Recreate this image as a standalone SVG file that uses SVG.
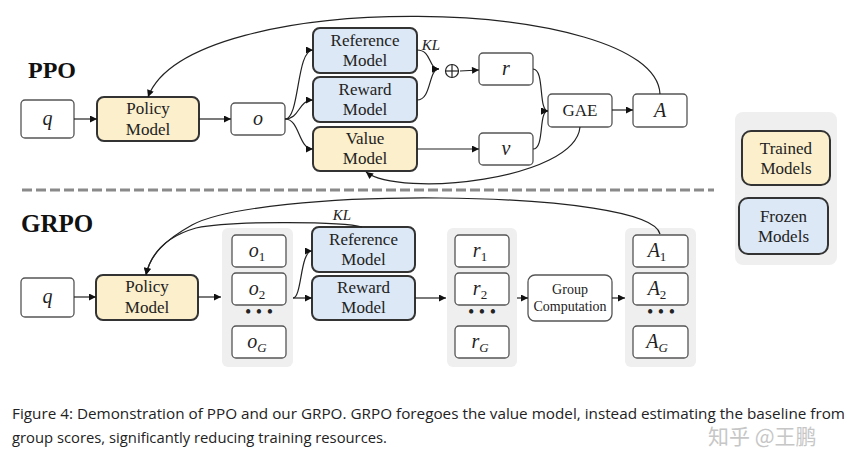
<svg xmlns="http://www.w3.org/2000/svg" width="864" height="460" viewBox="0 0 864 460">
<defs>
<marker id="ah" viewBox="0 0 10 10" refX="10" refY="5" markerWidth="8" markerHeight="7" orient="auto" markerUnits="userSpaceOnUse"><path d="M0,0 L10,5 L0,10 z" fill="#111"/></marker>
<style>
.box{fill:#fff;stroke:#555;stroke-width:1.3}
.tr{fill:#fcefcb;stroke:#333;stroke-width:2}
.fr{fill:#dce8f5;stroke:#333;stroke-width:2}
.grp{fill:#efefef;stroke:none}
.t{font-family:"Liberation Serif",serif;font-size:17px;fill:#222;text-anchor:middle}
.m{font-family:"Liberation Serif",serif;font-style:italic;font-size:20px;fill:#222;text-anchor:middle}
.s{font-size:13px;font-style:normal}
.h{font-family:"Liberation Serif",serif;font-weight:bold;font-size:24px;fill:#111}
.c{fill:none;stroke:#222;stroke-width:1.2}
.cap{font-family:"Open Sans","Liberation Sans",sans-serif;font-size:15px;fill:#222}
</style>
</defs>
<rect width="864" height="460" fill="#fff"/>

<text class="h" x="28" y="78">PPO</text>
<text class="h" x="21" y="232" style="font-size:25px">GRPO</text>
<line x1="22" y1="190" x2="714" y2="190" stroke="#8a8a8a" stroke-width="3" stroke-dasharray="10,4"/>

<!-- legend -->
<g id="legend">
<rect class="grp" x="735" y="112" width="102" height="153" rx="8"/>
<g id="trained"><rect class="tr" x="742" y="131" width="88" height="54" rx="9"/><text class="t" x="786" y="154">Trained</text><text class="t" x="786" y="174">Models</text></g>
<g id="frozen"><rect class="fr" x="739" y="198" width="89" height="56" rx="9"/><text class="t" x="783.5" y="222">Frozen</text><text class="t" x="783.5" y="242">Models</text></g>
</g>

<!-- PPO nodes -->
<g id="ppo-q"><rect class="box" x="21" y="100" width="53" height="38" rx="4"/><text class="m" x="47.5" y="125">q</text></g>
<g id="ppo-policy"><rect class="tr" x="97" y="97" width="102" height="44" rx="7"/><text class="t" x="148" y="114">Policy</text><text class="t" x="148" y="135">Model</text></g>
<g id="ppo-o"><rect class="box" x="231" y="103" width="54" height="32" rx="4"/><text class="m" x="258" y="125">o</text></g>
<g id="ppo-ref"><rect class="fr" x="313" y="28" width="104" height="45" rx="7"/><text class="t" x="365" y="46">Reference</text><text class="t" x="365" y="66">Model</text></g>
<g id="ppo-reward"><rect class="fr" x="313" y="77" width="104" height="45" rx="7"/><text class="t" x="365" y="95">Reward</text><text class="t" x="365" y="115">Model</text></g>
<g id="ppo-value"><rect class="tr" x="313" y="127" width="104" height="44" rx="7"/><text class="t" x="365" y="144">Value</text><text class="t" x="365" y="164">Model</text></g>
<g id="ppo-plus"><circle cx="452" cy="71" r="6.5" fill="none" stroke="#222" stroke-width="1.2"/><line x1="445.5" y1="71" x2="458.5" y2="71" stroke="#222" stroke-width="1.2"/><line x1="452" y1="64.5" x2="452" y2="77.5" stroke="#222" stroke-width="1.2"/></g>
<g id="ppo-r"><rect class="box" x="479" y="53" width="54" height="32" rx="4"/><text class="m" x="506" y="75">r</text></g>
<g id="ppo-v"><rect class="box" x="479" y="133" width="54" height="32" rx="4"/><text class="m" x="506" y="155">v</text></g>
<g id="ppo-gae"><rect class="box" x="548" y="94" width="64" height="33" rx="4"/><text class="t" x="580" y="116">GAE</text></g>
<g id="ppo-a"><rect class="box" x="633" y="94" width="54" height="33" rx="4"/><text class="m" x="660" y="117">A</text></g>

<!-- GRPO nodes -->
<g id="grpo-q"><rect class="box" x="21" y="278" width="53" height="39" rx="4"/><text class="m" x="47.5" y="303">q</text></g>
<g id="grpo-policy"><rect class="tr" x="96" y="275" width="102" height="45" rx="7"/><text class="t" x="147" y="292">Policy</text><text class="t" x="147" y="313">Model</text></g>
<g id="grpo-o">
<rect class="grp" x="222" y="228" width="71" height="139" rx="6"/>
<rect class="box" x="232" y="235" width="54" height="32" rx="4"/><text class="m" x="257" y="257">o<tspan class="s" dy="4">1</tspan></text>
<rect class="box" x="232" y="273" width="54" height="32" rx="4"/><text class="m" x="257" y="295">o<tspan class="s" dy="4">2</tspan></text>
<text class="t" x="259" y="318" style="font-size:18px">• • •</text>
<rect class="box" x="232" y="326" width="54" height="32" rx="4"/><text class="m" x="257" y="348">o<tspan class="s" dy="4" style="font-style:italic">G</tspan></text>
</g>
<g id="grpo-ref"><rect class="fr" x="312" y="227" width="103" height="45" rx="7"/><text class="t" x="363.5" y="245">Reference</text><text class="t" x="363.5" y="265">Model</text></g>
<g id="grpo-reward"><rect class="fr" x="312" y="276" width="103" height="44" rx="7"/><text class="t" x="363.5" y="293">Reward</text><text class="t" x="363.5" y="313">Model</text></g>
<g id="grpo-r">
<rect class="grp" x="447" y="228" width="70" height="139" rx="6"/>
<rect class="box" x="455" y="235" width="54" height="32" rx="4"/><text class="m" x="480" y="257">r<tspan class="s" dy="4">1</tspan></text>
<rect class="box" x="455" y="273" width="54" height="32" rx="4"/><text class="m" x="480" y="295">r<tspan class="s" dy="4">2</tspan></text>
<text class="t" x="482" y="318" style="font-size:18px">• • •</text>
<rect class="box" x="455" y="326" width="54" height="32" rx="4"/><text class="m" x="480" y="348">r<tspan class="s" dy="4" style="font-style:italic">G</tspan></text>
</g>
<g id="grpo-group"><rect class="box" x="528" y="275" width="84" height="46" rx="7"/><text class="t" x="570" y="294" style="font-size:14px">Group</text><text class="t" x="570" y="311" style="font-size:14px">Computation</text></g>
<g id="grpo-a">
<rect class="grp" x="625" y="228" width="71" height="139" rx="6"/>
<rect class="box" x="633" y="235" width="55" height="32" rx="4"/><text class="m" x="657" y="257">A<tspan class="s" dy="4">1</tspan></text>
<rect class="box" x="633" y="273" width="55" height="32" rx="4"/><text class="m" x="657" y="295">A<tspan class="s" dy="4">2</tspan></text>
<text class="t" x="661" y="318" style="font-size:18px">• • •</text>
<rect class="box" x="633" y="326" width="55" height="32" rx="4"/><text class="m" x="657" y="348">A<tspan class="s" dy="4" style="font-style:italic">G</tspan></text>
</g>

<!-- connectors -->
<g id="connectors">
<line class="c" x1="74" y1="119" x2="97" y2="119" marker-end="url(#ah)"/>
<line class="c" x1="199" y1="119" x2="231" y2="119" marker-end="url(#ah)"/>
<path class="c" d="M285 119 C300 119 296 50 313 50" marker-end="url(#ah)"/>
<path class="c" d="M285 119 C300 119 298 100 313 100" marker-end="url(#ah)"/>
<path class="c" d="M285 119 C300 119 298 149 313 149" marker-end="url(#ah)"/>
<path class="c" d="M417 50 C432 50 428 69 439 69" marker-end="url(#ah)"/>
<path class="c" d="M417 100 C432 100 428 69 439 69" marker-end="url(#ah)"/>
<line class="c" x1="460" y1="71" x2="479" y2="70" marker-end="url(#ah)"/>
<line class="c" x1="417" y1="149" x2="479" y2="149" marker-end="url(#ah)"/>
<path class="c" d="M533 69 C545 69 538 111 548 111" marker-end="url(#ah)"/>
<path class="c" d="M533 149 C545 149 538 111 548 111" marker-end="url(#ah)"/>
<line class="c" x1="612" y1="110" x2="633" y2="110" marker-end="url(#ah)"/>
<path class="c" d="M580 127 C575 180 400 198 366 172" marker-end="url(#ah)"/>
<path class="c" d="M660 94 C655 -5 190 -15 148 97" marker-end="url(#ah)"/>
<text class="m" x="431" y="50" style="font-size:15px">KL</text>

<line class="c" x1="74" y1="297" x2="96" y2="297" marker-end="url(#ah)"/>
<line class="c" x1="198" y1="297" x2="221" y2="297" marker-end="url(#ah)"/>
<path class="c" d="M293 298 C302 298 300 251 312 251" marker-end="url(#ah)"/>
<line class="c" x1="293" y1="298" x2="312" y2="298" marker-end="url(#ah)"/>
<line class="c" x1="415" y1="298" x2="446" y2="298" marker-end="url(#ah)"/>
<line class="c" x1="517" y1="298" x2="528" y2="298" marker-end="url(#ah)"/>
<line class="c" x1="612" y1="298" x2="625" y2="298" marker-end="url(#ah)"/>
<path class="c" d="M660 234 C655 212 560 199 440 198 C330 197 225 207 192 225 C165 240 150 255 146 275" marker-end="url(#ah)"/>
<path class="c" d="M362 227 C345 222 235 220 196 228 C168 236 151 252 146 275" marker-end="url(#ah)"/>
<text class="m" x="342" y="220" style="font-size:15px">KL</text>
</g>

<text class="cap" x="12" y="419" textLength="833" lengthAdjust="spacingAndGlyphs">Figure 4: Demonstration of PPO and our GRPO. GRPO foregoes the value model, instead estimating the baseline from</text>
<text class="cap" x="12" y="443" textLength="375" lengthAdjust="spacingAndGlyphs">group scores, significantly reducing training resources.</text>
<text x="708" y="444" style="font-family:'Noto Sans CJK SC',sans-serif;font-size:21px;fill:#bdbdbd;opacity:0.85">知乎 @王鹏</text>
</svg>
